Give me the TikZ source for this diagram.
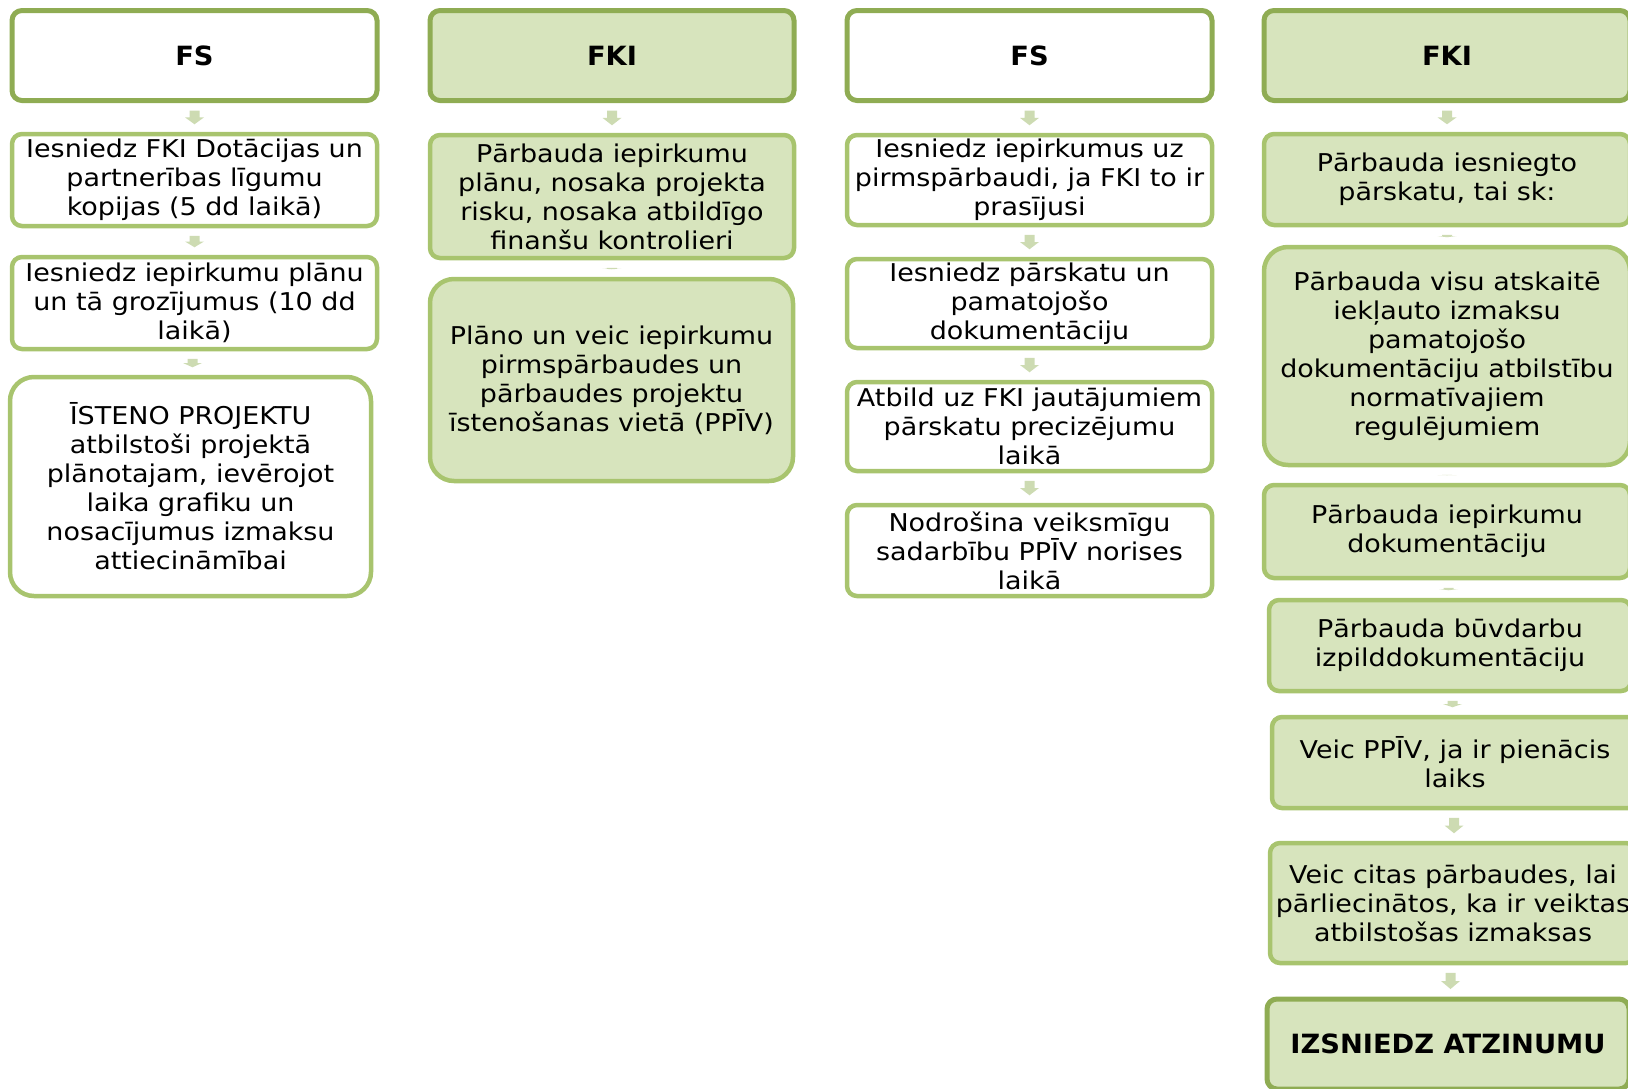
\documentclass[tikz,border=0pt]{standalone}
\usepackage{fontspec}
\setmainfont{DejaVu Sans}[FakeStretch=1.1]
\newfontfamily\headfont{DejaVu Sans}[FakeStretch=1.03]
\usetikzlibrary{calc}

\definecolor{headline}{RGB}{143,172,83}
\definecolor{boxline}{RGB}{168,196,110}
\definecolor{boxfill}{RGB}{215,228,189}
\definecolor{flowfill}{RGB}{205,219,178}

\tikzset{
  box/.style={draw=boxline, line width=4.5pt, rounded corners=10pt, align=center,
    inner sep=0pt, font=\fontsize{24.5}{29}\selectfont},
  head/.style={box, draw=headline, line width=5pt, font=\headfont\bfseries\fontsize{26.5}{30}\selectfont},
  filled/.style={fill=boxfill},
  big/.style={rounded corners=24pt},
}

% block arrow between two boxes, sized by the gap
\newcommand\flowarrow[2]{%
  \fill[flowfill] let \p1=(#1.south), \p2=(#2.north),
    \n1={\y1-\y2-15pt}, \n2={min(8pt,0.5*\n1)}, \n3={(\x1+\x2)/2} in
    (\n3-5pt,\y1-7.5pt) -- (\n3+5pt,\y1-7.5pt) -- (\n3+5pt,\y2+7.5pt+\n2)
    -- (\n3+9.5pt,\y2+7.5pt+\n2) -- (\n3,\y2+7.5pt) -- (\n3-9.5pt,\y2+7.5pt+\n2)
    -- (\n3-5pt,\y2+7.5pt+\n2) -- cycle;}

\begin{document}
\begin{tikzpicture}[x=1pt,y=-1pt]
  \useasboundingbox (0,0) rectangle (1628,1088);

  % FS
  \node[head, minimum width=365pt, minimum height=90pt] (fsa) at (194.5,55.5) {FS};
  \node[box, minimum width=365pt, minimum height=92pt] (fsa1) at (194.5,180)
    {Iesniedz FKI Dotācijas un\\partnerības līgumu\\kopijas (5 dd laikā)};
  \node[box, minimum width=365pt, minimum height=92pt] (fsa2) at (194.5,303)
    {Iesniedz iepirkumu plānu\\un tā grozījumus (10 dd\\laikā)};
  \node[box, big, minimum width=361pt, minimum height=219pt] (fsa3) at (190.5,486.5)
    {ĪSTENO PROJEKTU\\atbilstoši projektā\\plānotajam, ievērojot\\laika grafiku un\\nosacījumus izmaksu\\attiecināmībai};

  % FKI
  \node[head, filled, minimum width=364pt, minimum height=90pt] (fkia) at (612,55.5) {FKI};
  \node[box, filled, minimum width=364pt, minimum height=123pt] (fkia1) at (612,196.5)
    {Pārbauda iepirkumu\\plānu, nosaka projekta\\risku, nosaka atbildīgo\\finanšu kontrolieri};
  \node[box, filled, big, minimum width=363pt, minimum height=202pt] (fkia2) at (611.5,380)
    {Plāno un veic iepirkumu\\pirmspārbaudes un\\pārbaudes projektu\\īstenošanas vietā (PPĪV)};

  % FS
  \node[head, minimum width=365pt, minimum height=90pt] (fsb) at (1029.5,55.5) {FS};
  \node[box, minimum width=365pt, minimum height=90pt] (fsb1) at (1029.5,180)
    {Iesniedz iepirkumus uz\\pirmspārbaudi, ja FKI to ir\\prasījusi};
  \node[box, minimum width=365pt, minimum height=89pt] (fsb2) at (1029.5,303.5)
    {Iesniedz pārskatu un\\pamatojošo\\dokumentāciju};
  \node[box, minimum width=365pt, minimum height=89pt] (fsb3) at (1029.5,426.5)
    {Atbild uz FKI jautājumiem\\pārskatu precizējumu\\laikā};
  \node[box, minimum width=365pt, minimum height=91pt] (fsb4) at (1029.5,550.5)
    {Nodrošina veiksmīgu\\sadarbību PPĪV norises\\laikā};

  % FKI
  \node[head, filled, minimum width=366pt, minimum height=90pt] (fkib) at (1447,55.5) {FKI};
  \node[box, filled, minimum width=366pt, minimum height=91pt] (fkib1) at (1447,179.5)
    {Pārbauda iesniegto\\pārskatu, tai sk:};
  \node[box, filled, big, minimum width=366pt, minimum height=218pt] (fkib2) at (1447,356)
    {Pārbauda visu atskaitē\\iekļauto izmaksu\\pamatojošo\\dokumentāciju atbilstību\\normatīvajiem\\regulējumiem};
  \node[box, filled, minimum width=366pt, minimum height=93pt] (fkib3) at (1447,531.5)
    {Pārbauda iepirkumu\\dokumentāciju};
  \node[box, filled, minimum width=362pt, minimum height=91pt] (fkib4) at (1450,645.5)
    {Pārbauda būvdarbu\\izpilddokumentāciju};
  \node[box, filled, minimum width=366pt, minimum height=91pt] (fkib5) at (1455,762.5)
    {Veic PPĪV, ja ir pienācis\\laiks};
  \node[box, filled, minimum width=366pt, minimum height=120pt] (fkib6) at (1453,903)
    {Veic citas pārbaudes, lai\\pārliecinātos, ka ir veiktas\\atbilstošas izmaksas};
  \node[head, filled, minimum width=362pt, minimum height=90pt] (fkib7) at (1448,1044)
    {IZSNIEDZ ATZINUMU};

  % arrows
  \flowarrow{fsa}{fsa1}
  \flowarrow{fsa1}{fsa2}
  \flowarrow{fsa2}{fsa3}
  \flowarrow{fkia}{fkia1}
  \flowarrow{fkia1}{fkia2}
  \flowarrow{fsb}{fsb1}
  \flowarrow{fsb1}{fsb2}
  \flowarrow{fsb2}{fsb3}
  \flowarrow{fsb3}{fsb4}
  \flowarrow{fkib}{fkib1}
  \flowarrow{fkib1}{fkib2}
  \flowarrow{fkib2}{fkib3}
  \flowarrow{fkib3}{fkib4}
  \flowarrow{fkib4}{fkib5}
  \flowarrow{fkib5}{fkib6}
  \flowarrow{fkib6}{fkib7}
\end{tikzpicture}
\end{document}
